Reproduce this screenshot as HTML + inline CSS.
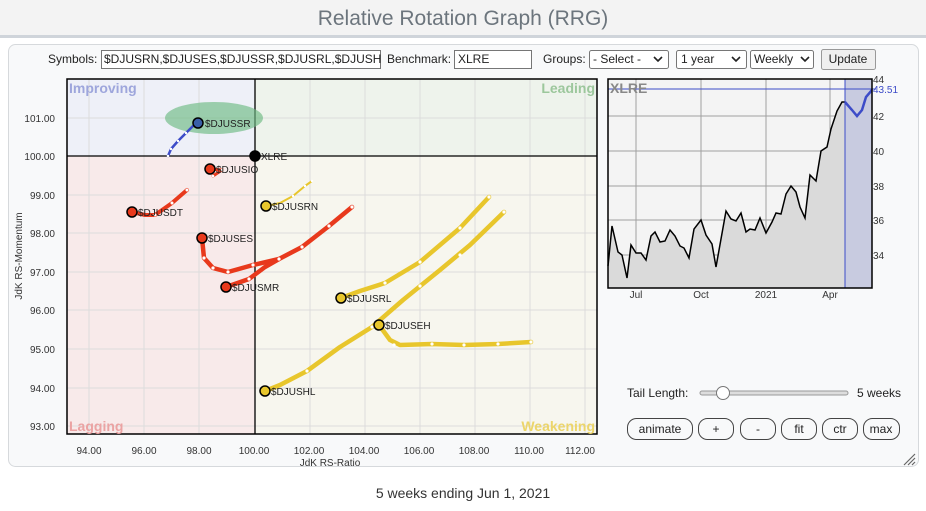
<!DOCTYPE html>
<html><head><meta charset="utf-8"><style>
body{margin:0;width:926px;height:506px;background:#fff;font-family:"Liberation Sans",Arial,sans-serif;overflow:hidden}
</style></head><body>
<svg width="926" height="506" xmlns="http://www.w3.org/2000/svg" font-family="Liberation Sans, Arial, sans-serif">
<rect x="0" y="0" width="926" height="36" fill="#f3f3f3"/>
<rect x="0" y="35" width="926" height="3" fill="#cfd4da"/>
<text x="463" y="25" text-anchor="middle" font-size="21" fill="#6c757d">Relative Rotation Graph (RRG)</text>
<rect x="8.5" y="44.5" width="910" height="422" rx="7" fill="#f8f9fa" stroke="#d6d9dc"/>
<g font-size="12" fill="#222">
<text x="48" y="63">Symbols:</text>
<rect x="101.5" y="50.5" width="279" height="18" fill="#fff" stroke="#767676"/>
<text x="104" y="63">$DJUSRN,$DJUSES,$DJUSSR,$DJUSRL,$DJUSH</text>
<text x="387" y="63">Benchmark:</text>
<rect x="454.5" y="50.5" width="77" height="18" fill="#fff" stroke="#767676"/>
<text x="458" y="63">XLRE</text>
<text x="543" y="63">Groups:</text>
<rect x="589.5" y="50.5" width="79" height="18" rx="2" fill="#fff" stroke="#767676"/>
<text x="593" y="63">- Select -</text>
<rect x="676.5" y="50.5" width="70" height="18" rx="2" fill="#fff" stroke="#767676"/>
<text x="681" y="63">1 year</text>
<rect x="750.5" y="50.5" width="63" height="18" rx="2" fill="#fff" stroke="#767676"/>
<text x="754" y="63">Weekly</text>
<path d="M654 57l4 4 4-4M732 57l4 4 4-4M801 57l4 4 4-4" stroke="#222" stroke-width="1.6" fill="none"/>
<rect x="821.5" y="49.5" width="54" height="20" rx="2" fill="#efefef" stroke="#999"/>
<text x="848" y="63" text-anchor="middle">Update</text>
</g>
<rect x="67" y="79" width="188" height="77" fill="#eef0f8"/>
<rect x="255" y="79" width="342" height="77" fill="#eef3ec"/>
<rect x="67" y="156" width="188" height="278" fill="#f8eaea"/>
<rect x="255" y="156" width="342" height="278" fill="#f7f6ee"/>
<g stroke="#dcdcdc" stroke-width="1">
<path d="M89 79V434M144 79V434M199 79V434M310 79V434M365 79V434M420 79V434M475 79V434M530 79V434M585 79V434"/>
<path d="M67 118H597M67 195H597M67 233H597M67 272H597M67 310H597M67 349H597M67 388H597M67 426H597"/>
</g>
<path d="M255 79V434M67 156H597" stroke="#000" stroke-width="1.3"/>
<rect x="67" y="79" width="530" height="355" fill="none" stroke="#000" stroke-width="1.5"/>
<g font-size="14" font-weight="bold">
<text x="69" y="93" fill="#9ea6dc">Improving</text>
<text x="595" y="93" fill="#9cc79c" text-anchor="end">Leading</text>
<text x="69" y="431" fill="#eba3a3">Lagging</text>
<text x="595" y="431" fill="#ecd56a" text-anchor="end">Weakening</text>
</g>
<g font-size="10" fill="#333">
<text x="55" y="122" text-anchor="end">101.00</text><text x="55" y="160" text-anchor="end">100.00</text>
<text x="55" y="199" text-anchor="end">99.00</text><text x="55" y="237" text-anchor="end">98.00</text>
<text x="55" y="276" text-anchor="end">97.00</text><text x="55" y="314" text-anchor="end">96.00</text>
<text x="55" y="353" text-anchor="end">95.00</text><text x="55" y="392" text-anchor="end">94.00</text>
<text x="55" y="430" text-anchor="end">93.00</text>
<g text-anchor="middle"><text x="89" y="454">94.00</text><text x="144" y="454">96.00</text><text x="199" y="454">98.00</text><text x="254" y="454">100.00</text><text x="309" y="454">102.00</text><text x="364" y="454">104.00</text><text x="419" y="454">106.00</text><text x="474" y="454">108.00</text><text x="529" y="454">110.00</text><text x="580" y="454">112.00</text>
<text x="330" y="466">JdK RS-Ratio</text></g>
<text transform="translate(22,256) rotate(-90)" text-anchor="middle">JdK RS-Momentum</text>
</g>
<ellipse cx="214" cy="118" rx="49" ry="16" fill="#6dba83" opacity="0.65"/>
<g fill="none" stroke-linecap="round" stroke-linejoin="round">
<polyline points="168,156 171,149 178,141 186,133 193,126 198,123" stroke="#3d4cc8" stroke-width="2.5"/>
<polyline points="213,176 222,170 210,169" stroke="#e8391c" stroke-width="3"/>
<polyline points="187,190 172,203 155,215 145,215 132,212" stroke="#e8391c" stroke-width="4"/>
<polyline points="312,181 305,186 293,196 280,203 266,206" stroke="#e8c62c" stroke-width="2"/>
<polyline points="352,207 329,226 302,247 279,259 253,265 228,272 213,268 204,258 202,238" stroke="#e8391c" stroke-width="4.5"/>
<polyline points="279,259 265,267 249,279 226,287" stroke="#e8391c" stroke-width="4.5"/>
<polyline points="489,197 460,228 420,262 385,283 360,291 341,298" stroke="#e8c62c" stroke-width="4.5"/>
<polyline points="504,212 470,245 440,270 403,300 372,327 340,347 307,371 280,385 265,391" stroke="#e8c62c" stroke-width="4.5"/>
<polyline points="531,342 498,344 464,345 432,344 400,345 390,340 379,325" stroke="#e8c62c" stroke-width="4.5"/>
</g>
<g fill="#fff" stroke="none">
<circle cx="168" cy="156" r="1.2"/><circle cx="171" cy="149" r="1.2"/><circle cx="178" cy="141" r="1.2"/><circle cx="186" cy="133" r="1.2"/>
<circle cx="213" cy="176" r="1.3"/><circle cx="222" cy="170" r="1.3"/>
<circle cx="187" cy="190" r="1.5"/><circle cx="172" cy="203" r="1.5"/><circle cx="155" cy="215" r="1.5"/>
<circle cx="312" cy="181" r="1.2"/><circle cx="305" cy="186" r="1.2"/><circle cx="293" cy="196" r="1.2"/>
<circle cx="352" cy="207" r="1.6"/><circle cx="329" cy="226" r="1.6"/><circle cx="302" cy="247" r="1.6"/><circle cx="279" cy="259" r="1.6"/><circle cx="253" cy="265" r="1.6"/><circle cx="228" cy="272" r="1.6"/><circle cx="213" cy="268" r="1.6"/><circle cx="204" cy="258" r="1.6"/><circle cx="249" cy="279" r="1.6"/>
<circle cx="489" cy="197" r="1.6"/><circle cx="460" cy="228" r="1.6"/><circle cx="420" cy="262" r="1.6"/><circle cx="385" cy="283" r="1.6"/>
<circle cx="504" cy="212" r="1.6"/><circle cx="460" cy="255" r="1.6"/><circle cx="420" cy="286" r="1.6"/><circle cx="372" cy="327" r="1.6"/><circle cx="307" cy="371" r="1.6"/>
<circle cx="531" cy="342" r="1.6"/><circle cx="498" cy="344" r="1.6"/><circle cx="464" cy="345" r="1.6"/><circle cx="432" cy="344" r="1.6"/><circle cx="394" cy="345" r="1.6"/>
</g>
<g stroke="#000" stroke-width="1.5">
<circle cx="198" cy="123" r="5" fill="#3a5fa8"/>
<circle cx="255" cy="156" r="5" fill="#000"/>
<circle cx="210" cy="169" r="5" fill="#e8391c"/>
<circle cx="132" cy="212" r="5" fill="#e8391c"/>
<circle cx="266" cy="206" r="5" fill="#e8c62c"/>
<circle cx="202" cy="238" r="5" fill="#e8391c"/>
<circle cx="226" cy="287" r="5" fill="#e8391c"/>
<circle cx="341" cy="298" r="5" fill="#e8c62c"/>
<circle cx="379" cy="325" r="5" fill="#e8c62c"/>
<circle cx="265" cy="391" r="5" fill="#e8c62c"/>
</g>
<g font-size="10" fill="#222">
<text x="205" y="127">$DJUSSR</text><text x="261" y="160">XLRE</text><text x="216" y="173">$DJUSIO</text>
<text x="138" y="216">$DJUSDT</text><text x="272" y="210">$DJUSRN</text><text x="208" y="242">$DJUSES</text>
<text x="232" y="291">$DJUSMR</text><text x="347" y="302">$DJUSRL</text><text x="385" y="329">$DJUSEH</text>
<text x="271" y="395">$DJUSHL</text>
</g>
<rect x="608" y="79" width="264" height="209" fill="#f4f4f4"/>
<g stroke="#a0a0a0" stroke-width="1">
<path d="M636 79V288M701 79V288M766 79V288M830 79V288M608 116H872M608 151H872M608 186H872M608 220H872M608 255H872"/>
</g>
<polygon fill="#dadada" points="608,288 608,266 612,226 618,252 622,255 627,278 631,245 636,253 641,253 646,260 651,236 655,232 660,242 665,241 670,230 675,236 680,246 684,248 689,258 694,229 701,220 706,235 712,244 716,267 726,211 731,219 736,221 741,213 746,232 750,229 755,230 760,218 766,233 772,222 776,213 781,214 786,194 791,186 796,192 800,207 805,218 810,175 816,181 821,151 827,147 831,129 837,111 842,102 845,102 845,288"/>
<rect x="845" y="79" width="27" height="209" fill="#c8cbe0"/>
<polyline fill="none" stroke="#000" stroke-width="1.5" points="608,266 612,226 618,252 622,255 627,278 631,245 636,253 641,253 646,260 651,236 655,232 660,242 665,241 670,230 675,236 680,246 684,248 689,258 694,229 701,220 706,235 712,244 716,267 726,211 731,219 736,221 741,213 746,232 750,229 755,230 760,218 766,233 772,222 776,213 781,214 786,194 791,186 796,192 800,207 805,218 810,175 816,181 821,151 827,147 831,129 837,111 842,102 845,102"/>
<polyline fill="none" stroke="#3d4cc8" stroke-width="2.5" points="845,102 852,110 857,116 862,110 866,97 872,90"/>
<path d="M608 89H876M845 79V288" stroke="#3d4cc8" stroke-width="1"/>
<rect x="608" y="79" width="264" height="209" fill="none" stroke="#000" stroke-width="1.5"/>
<text x="610" y="93" font-size="14" font-weight="bold" fill="#888">XLRE</text>
<g font-size="10" fill="#333">
<text x="873" y="83">44</text><text x="873" y="120">42</text><text x="873" y="155">40</text><text x="873" y="190">38</text><text x="873" y="224">36</text><text x="873" y="259">34</text>
<text x="873" y="93" fill="#3d4cc8">43.51</text>
<g text-anchor="middle"><text x="636" y="298">Jul</text><text x="701" y="298">Oct</text><text x="766" y="298">2021</text><text x="830" y="298">Apr</text></g>
</g>
<text x="627" y="397" font-size="12" fill="#222">Tail Length:</text>
<rect x="700" y="391" width="148" height="4" rx="2" fill="#ddd" stroke="#999"/>
<circle cx="723" cy="393" r="6.5" fill="#fff" stroke="#777"/>
<text x="857" y="397" font-size="12" fill="#222">5 weeks</text>
<g font-size="12" fill="#222" text-anchor="middle">
<rect x="627.5" y="418.5" width="65" height="21" rx="9" fill="#f8f9fa" stroke="#444"/><text x="660" y="433">animate</text>
<rect x="698.5" y="418.5" width="35" height="21" rx="9" fill="#f8f9fa" stroke="#444"/><text x="716" y="433">+</text>
<rect x="740.5" y="418.5" width="35" height="21" rx="9" fill="#f8f9fa" stroke="#444"/><text x="758" y="433">-</text>
<rect x="781.5" y="418.5" width="35" height="21" rx="9" fill="#f8f9fa" stroke="#444"/><text x="799" y="433">fit</text>
<rect x="822.5" y="418.5" width="35" height="21" rx="9" fill="#f8f9fa" stroke="#444"/><text x="840" y="433">ctr</text>
<rect x="863.5" y="418.5" width="36" height="21" rx="9" fill="#f8f9fa" stroke="#444"/><text x="881" y="433">max</text>
</g>
<path d="M904 465l11-11M908 465l7-7M912 465l3-3" stroke="#666" stroke-width="1.2"/>
<text x="463" y="498" font-size="14" fill="#333" text-anchor="middle">5 weeks ending Jun 1, 2021</text>
</svg>
</body></html>
